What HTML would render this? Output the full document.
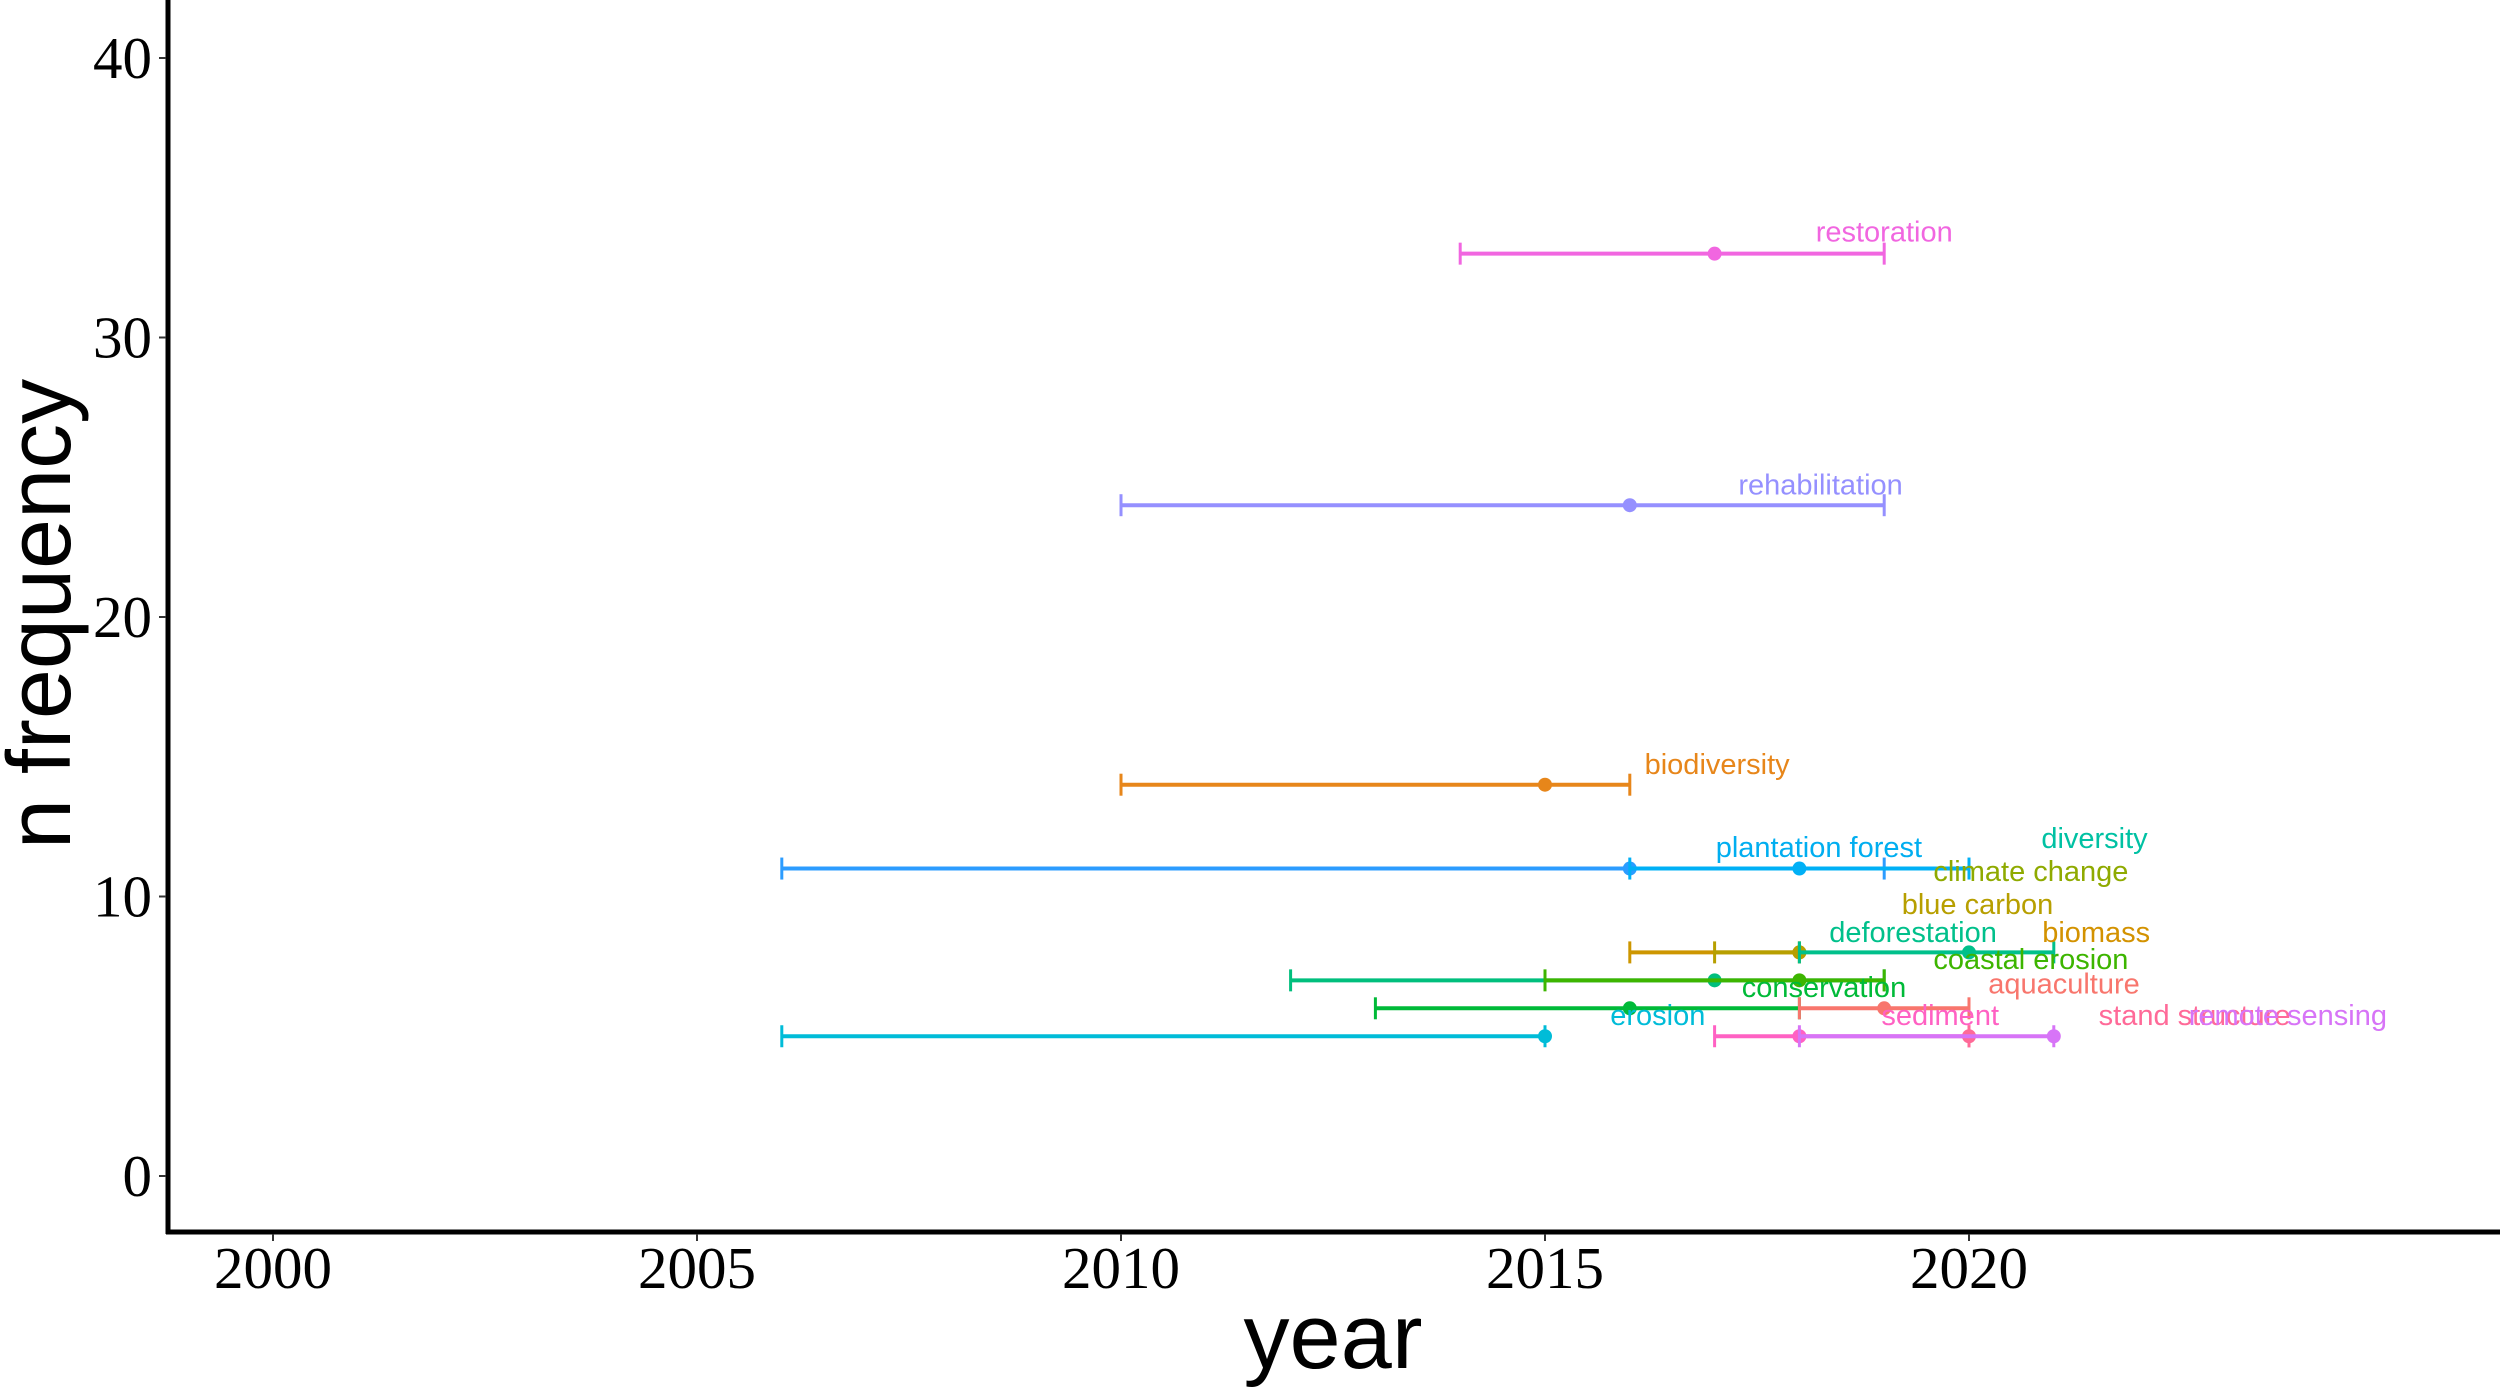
<!DOCTYPE html>
<html><head><meta charset="utf-8">
<style>
html,body{margin:0;padding:0;background:#fff;}
svg{display:block;}
</style></head>
<body>
<svg id="chart" width="2500" height="1390" viewBox="0 0 2500 1390" xmlns="http://www.w3.org/2000/svg">
  <rect x="0" y="0" width="2500" height="1390" fill="#fff"/>
  <g id="marks"></g>
  <g id="labels"></g>
  <g id="axes"></g>
  <text x="1333" y="1368" font-family="Liberation Sans, sans-serif" font-size="92" text-anchor="middle" fill="#000">year</text>
  <text x="0" y="0" transform="translate(70,614) rotate(-90)" font-family="Liberation Sans, sans-serif" font-size="90" text-anchor="middle" fill="#000">n frequency</text>
</svg>
<script>
// ---- data ----
const barNames = ["restoration","rehabilitation","biodiversity","long-term term","plantation forest","biomass","blue carbon","deforestation","conservation range","coastal erosion","conservation","aquaculture","erosion","sediment","stand structure","remote sensing"];
const barN     = [33, 24, 14, 11, 11, 8, 8, 8, 7, 7, 6, 6, 5, 5, 5, 5];
const barStart = [2014, 2010, 2010, 2006, 2016, 2016, 2017, 2018, 2012, 2015, 2013, 2018, 2006, 2017, 2020, 2018];
const barMid   = [2017, 2016, 2015, 2016, 2018, 2018, 2018, 2020, 2017, 2018, 2016, 2019, 2015, 2018, 2020, 2021];
const barEnd   = [2019, 2019, 2016, 2019, 2020, 2018, 2018, 2021, 2019, 2019, 2018, 2020, 2015, 2020, 2020, 2021];
const barColors = ["#F166E0","#9590FF","#E7861A","#2C9CFF","#00B0F6","#CD9600","#B79F00","#00C08B","#00BF7D","#3DB500","#00BA38","#F8766D","#00BCD8","#FF61C3","#FF6A98","#D774F7"];

const labelText  = ["restoration","rehabilitation","biodiversity","plantation forest","diversity","climate change","blue carbon","deforestation","biomass","coastal erosion","aquaculture","conservation","erosion","sediment","stand structure","remote sensing"];
const labelYear  = [2019.0, 2018.25, 2017.03, 2018.23, 2021.48, 2020.73, 2020.1, 2019.34, 2021.5, 2020.73, 2021.12, 2018.29, 2016.33, 2019.66, 2022.66, 2023.76];
const labelN     = [33.75, 24.7, 14.7, 11.73, 12.05, 10.88, 9.69, 8.69, 8.69, 7.72, 6.85, 6.72, 5.72, 5.72, 5.72, 5.72];
const labelColors = ["#F166E0","#9590FF","#E7861A","#00AEF0","#00C1A3","#8FAA00","#B79F00","#00C08B","#D39200","#3DB500","#F8766D","#00BA38","#00BCD8","#FF61C3","#FF6A98","#D774F7"];

const xTicks = [2000, 2005, 2010, 2015, 2020];
const yTicks = [0, 10, 20, 30, 40];

// ---- scales ----
function xs(v){ return 273 + (v - 2000) * 84.8; }
function ys(v){ return 1176 - v * 27.95; }

const NS = "http://www.w3.org/2000/svg";
function mk(tag, attrs){ const e = document.createElementNS(NS, tag); for (const k in attrs) e.setAttribute(k, attrs[k]); return e; }

const marks = document.getElementById('marks');
for (let i = 0; i < barNames.length; i++) {
  const g = mk('g', {});
  
  
  const y = ys(barN[i]), x1 = xs(barStart[i]), x2 = xs(barEnd[i]), c = barColors[i];
  g.appendChild(mk('line', {x1:x1, y1:y, x2:x2, y2:y, stroke:c, 'stroke-width':4}));
  g.appendChild(mk('line', {x1:x1, y1:y-11, x2:x1, y2:y+11, stroke:c, 'stroke-width':3}));
  g.appendChild(mk('line', {x1:x2, y1:y-11, x2:x2, y2:y+11, stroke:c, 'stroke-width':3}));
  const p = mk('circle', {cx:xs(barMid[i]), cy:y, r:7, fill:c});
  
  
  g.appendChild(p);
  marks.appendChild(g);
}

const labels = document.getElementById('labels');
for (let i = 0; i < labelText.length; i++) {
  const t = mk('text', {x:xs(labelYear[i]), y:ys(labelN[i]), 'text-anchor':'middle', 'dominant-baseline':'central', 'font-family':'Liberation Sans, sans-serif', 'font-size':29, fill:labelColors[i]});
  
  
  t.textContent = labelText[i];
  labels.appendChild(t);
}

const axes = document.getElementById('axes');
const yAxis = mk('line', {x1:168, y1:0, x2:168, y2:1234, stroke:'#000', 'stroke-width':5});


axes.appendChild(yAxis);
const xAxis = mk('line', {x1:166, y1:1232, x2:2500, y2:1232, stroke:'#000', 'stroke-width':5});


axes.appendChild(xAxis);

for (const v of xTicks) {
  const x = xs(v);
  axes.appendChild(mk('line', {x1:x, y1:1234, x2:x, y2:1241, stroke:'#333', 'stroke-width':2}));
  const t = mk('text', {x:x, y:1288, 'text-anchor':'middle', 'font-family':'Liberation Serif, serif', 'font-size':59, fill:'#000'});
  
  
  t.textContent = v;
  axes.appendChild(t);
}
for (const v of yTicks) {
  const y = ys(v);
  axes.appendChild(mk('line', {x1:159, y1:y, x2:166, y2:y, stroke:'#333', 'stroke-width':2}));
  const t = mk('text', {x:152, y:y + 20, 'text-anchor':'end', 'font-family':'Liberation Serif, serif', 'font-size':59, fill:'#000'});
  
  
  t.textContent = v;
  axes.appendChild(t);
}
</script>
</body></html>
